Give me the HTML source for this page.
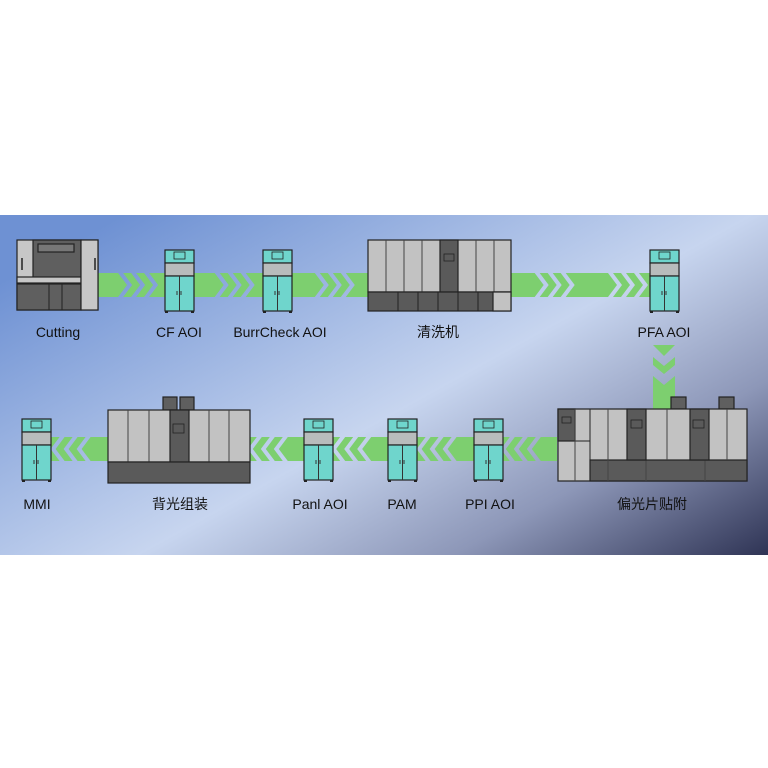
<!DOCTYPE html>
<html><head><meta charset="utf-8"><style>
html,body{margin:0;padding:0;background:#fff;width:768px;height:768px;overflow:hidden}
text{font-family:"Liberation Sans","Noto Sans CJK SC",sans-serif;font-size:14px;fill:#111}
</style></head><body>
<svg id="s" width="768" height="768" xmlns="http://www.w3.org/2000/svg">
<defs>
<linearGradient id="bg" x1="0" y1="0.2" x2="1" y2="1">
<stop offset="0" stop-color="#6e91d3"/>
<stop offset="0.5" stop-color="#c7d5ef"/>
<stop offset="0.75" stop-color="#8d97b8"/>
<stop offset="1" stop-color="#2f3455"/>
</linearGradient>
</defs>
<rect x="0" y="215" width="768" height="340" fill="url(#bg)"/>
<g id="arrows"></g>
<g id="mach"></g>
<g>
<text x="58" y="337" text-anchor="middle">Cutting</text>
<text x="179" y="337" text-anchor="middle">CF AOI</text>
<text x="280" y="337" text-anchor="middle">BurrCheck AOI</text>
<text x="438" y="337" text-anchor="middle">清洗机</text>
<text x="664" y="337" text-anchor="middle">PFA  AOI</text>
<text x="37" y="509" text-anchor="middle">MMI</text>
<text x="180" y="509" text-anchor="middle">背光组装</text>
<text x="320" y="509" text-anchor="middle">Panl AOI</text>
<text x="402" y="509" text-anchor="middle">PAM</text>
<text x="490" y="509" text-anchor="middle">PPI AOI</text>
<text x="652" y="509" text-anchor="middle">偏光片贴附</text>
</g>
</svg>
<script>
var A=document.getElementById('arrows'),M=document.getElementById('mach');
var G='#7dcf6f';
function poly(p,f,par){var e=document.createElementNS('http://www.w3.org/2000/svg','polygon');e.setAttribute('points',p.map(function(q){return q.join(',')}).join(' '));e.setAttribute('fill',f);(par||A).appendChild(e);}
function r(x,y,w,h,f,sw){var e=document.createElementNS('http://www.w3.org/2000/svg','rect');e.setAttribute('x',x);e.setAttribute('y',y);e.setAttribute('width',w);e.setAttribute('height',h);e.setAttribute('fill',f);if(sw!==0){e.setAttribute('stroke','#222');e.setAttribute('stroke-width',sw||1.2);}M.appendChild(e);}
function ln(x1,y1,x2,y2,c,w){var e=document.createElementNS('http://www.w3.org/2000/svg','line');e.setAttribute('x1',x1);e.setAttribute('y1',y1);e.setAttribute('x2',x2);e.setAttribute('y2',y2);e.setAttribute('stroke',c||'#333');e.setAttribute('stroke-width',w||1);M.appendChild(e);}
// horizontal arrow segment, dir=1 right, -1 left
function seg(a,b,cy,dir){var h=12,d=9,t=8;var L=(b-a)*0.3;
 function X(x){return dir>0?x:(a+b-x);}
 var top=cy-h,bot=cy+h;
 poly([[X(a),top],[X(a+L),top],[X(a+L+d),cy],[X(a+L),bot],[X(a),bot]],G);
 var x=a+L+5;
 for(var i=0;i<2;i++){poly([[X(x),top],[X(x+t),top],[X(x+t+d),cy],[X(x+t),bot],[X(x),bot],[X(x+d),cy]],G);x+=t+5;}
 poly([[X(x),top],[X(b),top],[X(b),bot],[X(x),bot],[X(x+d),cy]],G);
}
seg(98,165,285,1);seg(194,263,285,1);seg(292,368,285,1);
seg(511,590,285,1);seg(590,650,285,1);
seg(50,108,449,-1);seg(250,304,449,-1);seg(332,388,449,-1);seg(416,474,449,-1);seg(503,557,449,-1);
// down arrow
(function(){var cx=664,w=11,d=9;poly([[cx-w,345],[cx+w,345],[cx,356]],G);
poly([[cx-w,357],[cx,366],[cx+w,357],[cx+w,365],[cx,374],[cx-w,365]],G);
poly([[cx-w,376],[cx,385],[cx+w,376],[cx+w,412],[cx-w,412]],G);})();
function aoi(x,y){var w=29;r(x,y,w,13,'#6fd5cc');r(x+9,y+2,11,7,'#6fd5cc',0.8);r(x,y+13,w,13,'#b8bcbc');r(x,y+26,w,35,'#6fd5cc');ln(x+w/2,y+26,x+w/2,y+61,'#333',1);ln(x+12,y+41,x+12,y+45);ln(x+16,y+41,x+16,y+45);r(x,y+61,3,2,'#222',0);r(x+w-3,y+61,3,2,'#222',0);}
aoi(165,250);aoi(263,250);aoi(650,250);aoi(22,419);aoi(304,419);aoi(388,419);aoi(474,419);
// Cutting
r(17,240,81,70,'#c7c7c7');r(33,240,48,44,'#5f5f5f');r(38,244,36,8,'#777');r(17,284,64,26,'#5f5f5f');r(17,277,64,6,'#c7c7c7');r(81,240,17,70,'#c7c7c7');
ln(49,284,49,310,'#222');ln(62,284,62,310,'#222');ln(22,258,22,270,'#222',1.5);ln(95,258,95,270,'#222',1.5);
// Cleaning
(function(){var x=368,y=240;r(x,y,143,52,'#c2c2c2');var xs=[386,404,422,440,458,476,494];xs.forEach(function(v){ln(v,y,v,y+52,'#444')});r(440,y,18,52,'#5a5a5a');r(444,y+14,10,7,'#5a5a5a',0.8);r(x,y+52,143,19,'#5a5a5a');r(493,y+52,18,19,'#c2c2c2');[398,418,438,458,478].forEach(function(v){ln(v,y+52,v,y+71,'#222')});})();
// Backlight
(function(){var x=108,y=410;r(163,397,14,13,'#5f5f5f');r(180,397,14,13,'#5f5f5f');r(x,y,142,52,'#c2c2c2');[128,149,170,189,209,229].forEach(function(v){ln(v,y,v,y+52,'#444')});r(170,y,19,52,'#5a5a5a');r(173,y+14,11,9,'#5a5a5a',0.8);r(x,y+52,142,21,'#5a5a5a');})();
// Polarizer
(function(){var x=558,y=409;r(671,397,15,12,'#5f5f5f');r(719,397,15,12,'#5f5f5f');r(x,y,189,72,'#c2c2c2');r(x,y,17,32,'#5a5a5a');r(562,y+8,9,6,'#5a5a5a',0.8);ln(x,y+32,x+32,y+32,'#222');ln(575,y,575,y+72,'#444');r(590,y+51,157,21,'#5a5a5a');[608,646,705].forEach(function(v){ln(v,y,v,y+72,'#444')});r(627,y,19,51,'#5a5a5a');r(631,y+11,11,8,'#5a5a5a',0.8);r(690,y,19,51,'#5a5a5a');r(693,y+11,11,8,'#5a5a5a',0.8);ln(727,y,727,y+51,'#444');ln(667,y,667,y+51,'#444');ln(590,y,590,y+72,'#222');})();
</script>
</body></html>
